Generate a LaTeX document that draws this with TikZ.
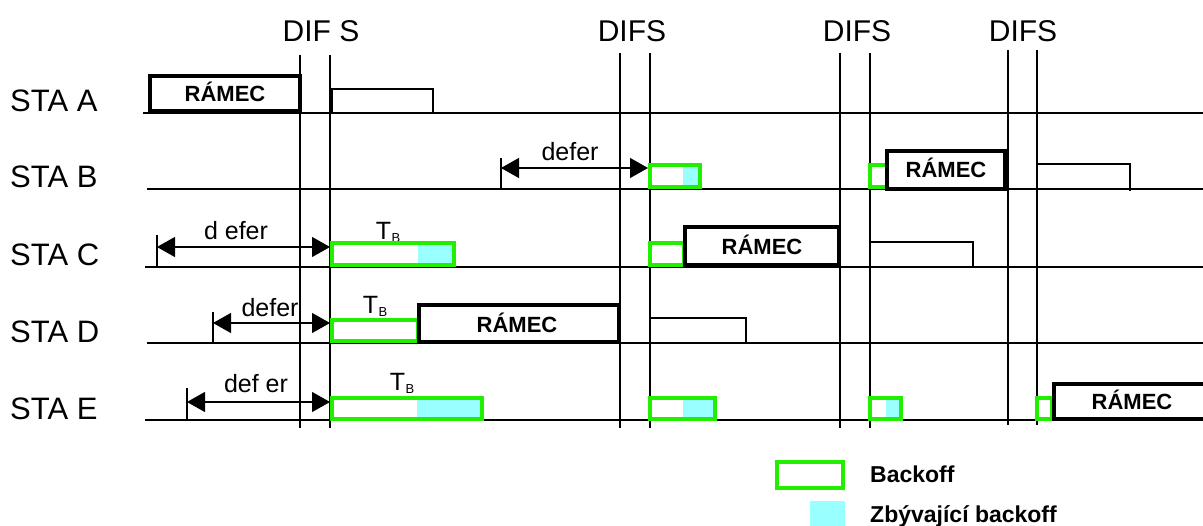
\documentclass[tikz,border=0pt]{standalone}
\usepackage{fontspec}
\setmainfont{Liberation Sans}
\usetikzlibrary{arrows.meta}
\definecolor{bogreen}{RGB}{34,238,0}
\definecolor{bocyan}{RGB}{153,255,255}
\newcommand{\tbsym}{T\kern0.5pt\lower3pt\hbox{\fontsize{13}{13}\selectfont B}}
\begin{document}
\begin{tikzpicture}[x=1pt, y=-1pt,
  wire/.style={line width=1.2pt},
  frame/.style={line width=4pt, draw=black, fill=white},
  boff/.style={line width=4pt, draw=bogreen},
  rest/.style={fill=bocyan},
  defarrow/.style={line width=1.2pt, {Triangle[length=18pt,width=20pt]}-{Triangle[length=18pt,width=20pt]}},
  stalabel/.style={font=\fontsize{31}{31}\selectfont, anchor=base west, inner sep=0pt},
  difslabel/.style={font=\fontsize{30}{30}\selectfont, anchor=base, inner sep=0pt},
  ramec/.style={font=\fontsize{22}{22}\selectfont\bfseries, anchor=base, inner sep=0pt},
  deflabel/.style={font=\fontsize{25}{25}\selectfont, anchor=base, inner sep=0pt},
  tblabel/.style={font=\fontsize{25}{25}\selectfont, anchor=base, inner sep=0pt},
  legtext/.style={font=\fontsize{23}{23}\selectfont\bfseries, anchor=base west, inner sep=0pt}]
\useasboundingbox (0,0) rectangle (1203,526);
  % station lines
  \draw[wire] (143,113) -- (1203,113);
  \draw[wire] (147,189) -- (1203,189);
  \draw[wire] (145,267) -- (1203,267);
  \draw[wire] (147,343) -- (1203,343);
  \draw[wire] (145,420) -- (1203,420);
  \node[stalabel] (staA) at (10,112) {STA A};
  \node[stalabel] (staB) at (10,188) {STA B};
  \node[stalabel] (staC) at (10,266) {STA C};
  \node[stalabel] (staD) at (10,343) {STA D};
  \node[stalabel] (staE) at (10,420) {STA E};
  % DIFS
  \draw[wire] (300,55) -- (300,428);
  \draw[wire] (330,55) -- (330,428);
  \draw[wire] (620,53) -- (620,428);
  \draw[wire] (650,53) -- (650,428);
  \draw[wire] (840,53) -- (840,428);
  \draw[wire] (870,53) -- (870,428);
  \draw[wire] (1008,50) -- (1008,425);
  \draw[wire] (1037,50) -- (1037,425);
  \node[difslabel] (difs1) at (321,42) {DIF S};
  \node[difslabel] (difs2) at (632,42) {DIFS};
  \node[difslabel] (difs3) at (857,42) {DIFS};
  \node[difslabel] (difs4) at (1023,42) {DIFS};
  % STA A
  \draw[frame] (150,76) rectangle (300,111);
  \node[ramec] (ramecA) at (225,102) {RÁMEC};
  \draw[wire] (332,113) -- (332,89) -- (433,89) -- (433,113);
  % STA B
  \draw[wire] (501,158) -- (501,189);
  \coordinate (defB0) at (501,168);
  \coordinate (defB1) at (648,168);
  \draw[defarrow] (defB0) -- (defB1);
  \node[deflabel] (deferB) at (570,161) {defer};
  \fill[rest] (683,165) rectangle (700,187);
  \draw[boff] (650,165) rectangle (700,187);
  \draw[boff] (870,165) rectangle (887,187);
  \draw[frame] (887,151) rectangle (1005,189);
  \node[ramec] (ramecB) at (946,178) {RÁMEC};
  \draw[wire] (1037,164) -- (1130,164) -- (1130,191);
  % STA C
  \draw[wire] (157,235) -- (157,268);
  \coordinate (defC0) at (157,247);
  \coordinate (defC1) at (330,247);
  \draw[defarrow] (defC0) -- (defC1);
  \node[deflabel] (deferC) at (236,240) {d efer};
  \node[tblabel] (tbC) at (388,240) {\tbsym};
  \fill[rest] (418,243) rectangle (454,265);
  \draw[boff] (332,243) rectangle (454,265);
  \draw[boff] (650,243) rectangle (684,265);
  \draw[frame] (685,227) rectangle (839,265);
  \node[ramec] (ramecC) at (762,255) {RÁMEC};
  \draw[wire] (870,242) -- (973,242) -- (973,267);
  % STA D
  \draw[wire] (213,312) -- (213,343);
  \coordinate (defD0) at (213,323);
  \coordinate (defD1) at (330,323);
  \draw[defarrow] (defD0) -- (defD1);
  \node[deflabel] (deferD) at (270,317) {defer};
  \node[tblabel] (tbD) at (375,314) {\tbsym};
  \draw[boff] (332,320) rectangle (418,341);
  \draw[frame] (419,305) rectangle (619,342);
  \node[ramec] (ramecD) at (517,333) {RÁMEC};
  \draw[wire] (650,318) -- (746,318) -- (746,343);
  % STA E
  \draw[wire] (187,388) -- (187,420);
  \coordinate (defE0) at (187,402);
  \coordinate (defE1) at (330,402);
  \draw[defarrow] (defE0) -- (defE1);
  \node[deflabel] (deferE) at (256,393) {def er};
  \node[tblabel] (tbE) at (402,391) {\tbsym};
  \fill[rest] (417,398) rectangle (482,419);
  \draw[boff] (332,398) rectangle (482,419);
  \fill[rest] (683,398) rectangle (715,419);
  \draw[boff] (650,398) rectangle (715,419);
  \fill[rest] (886,398) rectangle (901,419);
  \draw[boff] (870,398) rectangle (901,419);
  \draw[boff] (1037,398) rectangle (1052,419);
  \draw[frame] (1054,384) rectangle (1212,419);
  \node[ramec] (ramecE) at (1132,410) {RÁMEC};
  % legend
  \draw[boff] (777,462) rectangle (843,488);
  \node[legtext] (legBo) at (870,483) {Backoff};
  \fill[rest] (810,501) rectangle (845,530);
  \node[legtext] (legRest) at (870,522) {Zbývající backoff};
\end{tikzpicture}
\end{document}
